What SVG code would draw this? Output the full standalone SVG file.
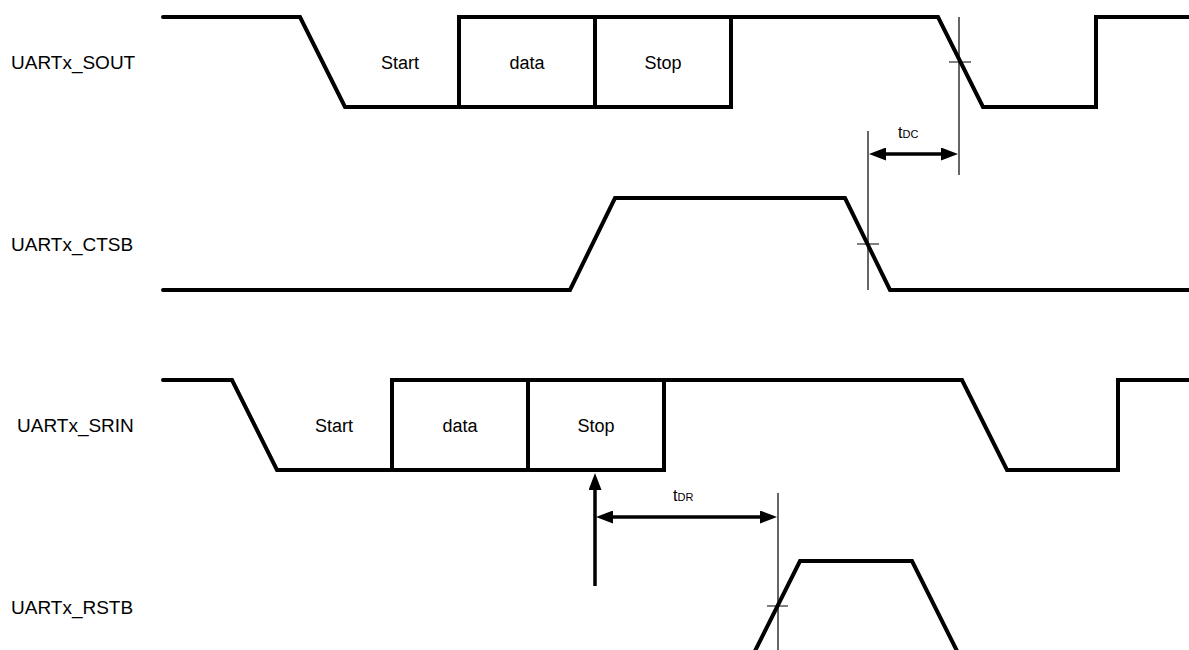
<svg xmlns="http://www.w3.org/2000/svg" width="1189" height="650" viewBox="0 0 1189 650">
<style>
.sig{fill:none;stroke:#000;stroke-width:4;stroke-linejoin:miter;stroke-linecap:round}
.thin{fill:none;stroke:#000;stroke-width:1.2}
.dim{fill:none;stroke:#000;stroke-width:3.5}
.lbl{font-family:"Liberation Sans",Arial,sans-serif;font-size:19px;fill:#000}
.box{font-family:"Liberation Sans",Arial,sans-serif;font-size:18px;fill:#000;text-anchor:middle}
.t{font-family:"Liberation Sans",Arial,sans-serif;font-size:16px;fill:#000}
.sub{font-size:11px}
</style>
<defs>
<marker id="ah" markerUnits="userSpaceOnUse" viewBox="0 0 17 13" refX="9" refY="6.5" markerWidth="17" markerHeight="13" orient="auto-start-reverse">
<path d="M0,0 L17,6.5 L0,13 z" fill="#000"/>
</marker>
</defs>
<rect width="1189" height="650" fill="#fff"/>
<g id="UARTx_SOUT">
<text class="lbl" x="11" y="69">UARTx_SOUT</text>
<path class="sig" d="M163,17 H300 L345,107 H731 V17 H938 L983,107 H1096 V17 H1189"/>
<path class="sig" d="M459,107 V17 H731 M595,17 V107"/>
<text class="box" x="400" y="69">Start</text>
<text class="box" x="527" y="69">data</text>
<text class="box" x="663" y="69">Stop</text>
<path class="thin" d="M959,17 V175 M949,62 H971"/>
</g>
<g id="UARTx_CTSB">
<text class="lbl" x="11" y="251">UARTx_CTSB</text>
<path class="sig" d="M163,290 H570 L615,198 H845 L890,290 H1189"/>
<path class="thin" d="M868,131 V290 M857,244 H879"/>
</g>
<g id="UARTx_SRIN">
<text class="lbl" x="17" y="432">UARTx_SRIN</text>
<path class="sig" d="M163,380 H232 L277,470 H664 V380 H962 L1007,470 H1118 V380 H1189"/>
<path class="sig" d="M392,470 V380 H664 M528,380 V470"/>
<text class="box" x="334" y="432">Start</text>
<text class="box" x="460" y="432">data</text>
<text class="box" x="596" y="432">Stop</text>
</g>
<g id="UARTx_RSTB">
<text class="lbl" x="11" y="614">UARTx_RSTB</text>
<path class="sig" d="M754,653 L800,561 H912 L958,653"/>
<path class="thin" d="M778,493 V650 M767,606 H788"/>
</g>
<g id="connectors">
<path class="dim" d="M877,154 H950" marker-start="url(#ah)" marker-end="url(#ah)"/>
<text class="t" x="898" y="138">t<tspan class="sub">DC</tspan></text>
<path class="dim" d="M595,586 V481" marker-end="url(#ah)"/>
<path class="dim" d="M604,517 H769" marker-start="url(#ah)" marker-end="url(#ah)"/>
<text class="t" x="673" y="501">t<tspan class="sub">DR</tspan></text>
</g>
</svg>
